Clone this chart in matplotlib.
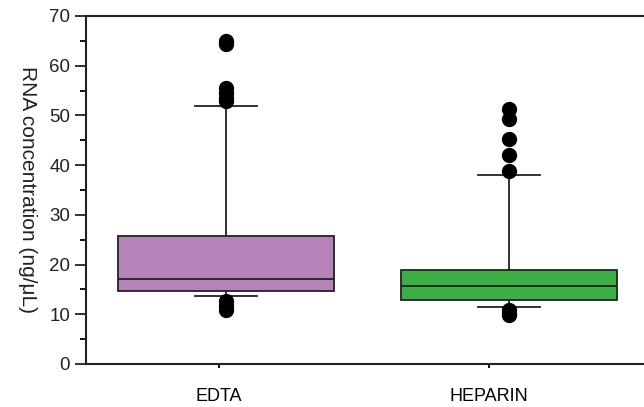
import matplotlib
matplotlib.use("Agg")
import matplotlib.pyplot as plt

# ---- data ----
groups = ["EDTA", "HEPARIN"]
q1 = [14.7, 12.9]
medians = [17.0, 15.6]
q3 = [25.7, 18.9]
whisker_low = [13.7, 11.5]
whisker_high = [51.8, 38.0]
fliers_edta = [64.4, 64.9, 55.5, 54.5, 53.6, 53.0, 12.6, 11.6, 10.8]
fliers_heparin = [51.2, 49.2, 45.2, 42.1, 38.9, 10.9, 10.3, 9.9]
box_colors = ["#b683b9", "#3bae44"]

plt.rcParams['font.family'] = ['Liberation Sans', 'DejaVu Sans']

fig = plt.figure(figsize=(6.44, 4.07), dpi=100)
ax = fig.add_axes([0.1335, 0.1057, 0.8665 + 0.002, 0.855])

stats = []
for i, g in enumerate(groups):
    stats.append(dict(label=g, q1=q1[i], med=medians[i], q3=q3[i],
                      whislo=whisker_low[i], whishi=whisker_high[i],
                      fliers=[fliers_edta, fliers_heparin][i]))

positions = [1, 2]
bp = ax.bxp(stats, positions=positions, widths=0.762, patch_artist=True,
            showfliers=True,
            boxprops=dict(linewidth=1.3, edgecolor="#222222"),
            medianprops=dict(color="#222222", linewidth=1.3),
            whiskerprops=dict(color="#222222", linewidth=1.3),
            capprops=dict(color="#222222", linewidth=1.3),
            capwidths=0.22,
            flierprops=dict(marker="o", markerfacecolor="black",
                            markeredgecolor="black", markersize=10))
for patch, c in zip(bp["boxes"], box_colors):
    patch.set_facecolor(c)

ax.set_xlim(0.504, 2.482)
ax.set_ylim(0, 70)
ax.set_yticks(range(0, 71, 10))
ax.set_yticks(range(5, 70, 10), minor=True)
ax.set_xticks([0.975, 1.93])
ax.set_xticklabels(groups, fontsize=13)
ax.tick_params(axis='y', which='major', length=8, width=1.3, labelsize=13.5, colors="#222222")
ax.tick_params(axis='y', which='minor', length=4, width=1.3)
ax.tick_params(axis='x', which='major', length=3, width=1.3, pad=14)

for s in ["left", "bottom", "top"]:
    ax.spines[s].set_linewidth(1.5)
    ax.spines[s].set_color("#222222")
ax.spines["right"].set_visible(False)

ax.set_ylabel("RNA concentration (ng/μL)", rotation=-90, fontsize=15,
              labelpad=22, color="#222222")

fig.savefig("out.png", dpi=100)
